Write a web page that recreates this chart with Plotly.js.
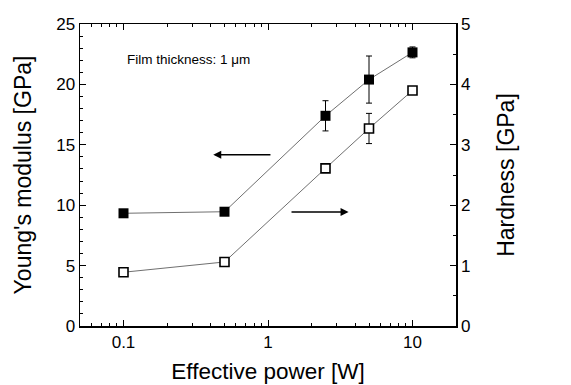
<!DOCTYPE html>
<html><head><meta charset="utf-8">
<script src="https://cdn.plot.ly/plotly-3.0.1.min.js"></script>
<style>body{margin:0;padding:0;background:#fff}#plot{width:571px;height:385px}</style>
</head><body><div id="plot"></div>
<script>
const power = [0.1, 0.5, 2.5, 5, 10];
const youngs = [9.33, 9.46, 17.4, 20.4, 22.65];
const youngsErr = [0, 0, 1.25, 1.95, 0.45];
const hardness = [0.89, 1.06, 2.61, 3.27, 3.90];
const hardnessErr = [0.05, 0.05, 0.06, 0.25, 0.02];
const xTicks = [0.1, 1, 10];
const xTickText = ['0.1', '1', '10'];
const note = 'Film thickness: 1 \u03bcm';

const font = 'Liberation Sans, Arial, sans-serif';
const traces = [
  {x: power, y: youngs, type: 'scatter', mode: 'lines+markers',
   line: {color: '#707070', width: 1},
   marker: {symbol: 'square', size: 10, color: '#000'},
   error_y: {type: 'data', array: youngsErr, visible: true, color: '#000', thickness: 1, width: 3},
   xaxis: 'x', yaxis: 'y'},
  {x: power, y: hardness, type: 'scatter', mode: 'lines+markers',
   line: {color: '#707070', width: 1},
   marker: {symbol: 'square', size: 9, color: '#fff', line: {color: '#000', width: 1.6}},
   error_y: {type: 'data', array: hardnessErr, visible: true, color: '#000', thickness: 1, width: 3},
   xaxis: 'x', yaxis: 'y2'}
];
const layout = {
  width: 571, height: 385,
  margin: {l: 80, r: 115, t: 24, b: 59},
  paper_bgcolor: '#fff', plot_bgcolor: '#fff',
  showlegend: false,
  font: {family: font, color: '#000'},
  xaxis: {type: 'log', range: [Math.log10(0.05), Math.log10(20)],
    tickvals: xTicks, ticktext: xTickText,
    ticks: 'inside', ticklen: 6, tickwidth: 1, tickcolor: '#000',
    minor: {dtick: 'D1', ticks: 'inside', ticklen: 3, tickcolor: '#000', showgrid: false},
    showline: true, linecolor: '#000', linewidth: 1.5, mirror: 'ticks',
    showgrid: false, zeroline: false,
    tickfont: {size: 17, family: font},
    title: {text: 'Effective power [W]', font: {size: 22.5, family: font}, standoff: 12}},
  yaxis: {range: [0, 25], tickvals: [0, 5, 10, 15, 20, 25],
    ticks: 'inside', ticklen: 6, tickwidth: 1, tickcolor: '#000',
    minor: {dtick: 1, ticks: 'inside', ticklen: 3, tickcolor: '#000', showgrid: false},
    showline: true, linecolor: '#000', linewidth: 1.5,
    showgrid: false, zeroline: false,
    tickfont: {size: 17, family: font},
    title: {text: "Young's modulus [GPa]", font: {size: 23, family: font}, standoff: 18}},
  yaxis2: {range: [0, 5], overlaying: 'y', side: 'right', tickvals: [0, 1, 2, 3, 4, 5],
    ticks: 'inside', ticklen: 6, tickwidth: 1, tickcolor: '#000',
    minor: {dtick: 0.5, ticks: 'inside', ticklen: 3, tickcolor: '#000', showgrid: false},
    showline: true, linecolor: '#000', linewidth: 1.5,
    showgrid: false, zeroline: false,
    tickfont: {size: 17, family: font},
    title: {text: 'Hardness [GPa]', font: {size: 23, family: font}, standoff: 28}},
  annotations: [
    {xref: 'paper', yref: 'paper', x: 0.121, y: 0.881, xanchor: 'left', yanchor: 'middle',
     text: note, showarrow: false, font: {size: 13.5, family: font}},
    {xref: 'x', yref: 'y', axref: 'x', ayref: 'y',
     x: Math.log10(0.418), y: 14.18, ax: Math.log10(1.065), ay: 14.18,
     showarrow: true, arrowhead: 2, arrowsize: 1, arrowwidth: 1.6, arrowcolor: '#000', text: ''},
    {xref: 'x', yref: 'y', axref: 'x', ayref: 'y',
     x: Math.log10(3.61), y: 9.44, ax: Math.log10(1.42), ay: 9.44,
     showarrow: true, arrowhead: 2, arrowsize: 1, arrowwidth: 1.6, arrowcolor: '#000', text: ''}
  ]
};
Plotly.newPlot('plot', traces, layout, {displayModeBar: false, staticPlot: true});
</script></body></html>
